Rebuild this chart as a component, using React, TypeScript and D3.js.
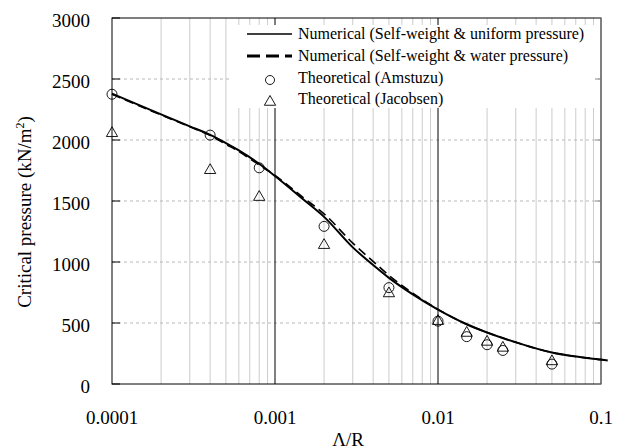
import React from "react";
import * as d3 from "d3";

// -- DATA --
const numX = [0.0001, 0.0002, 0.0003, 0.0004, 0.0005, 0.0006, 0.0008, 0.001, 0.0015, 0.002, 0.003, 0.004, 0.005, 0.007, 0.01, 0.015, 0.02, 0.03, 0.05, 0.07, 0.1, 0.11];
const uniformP = [2380, 2210, 2112, 2042, 1975, 1915, 1805, 1705, 1510, 1370, 1120, 975, 870, 735, 610, 490, 422, 342, 258, 225, 200, 192];
const waterP = [2375, 2205, 2108, 2038, 1965, 1905, 1795, 1710, 1525, 1395, 1155, 1005, 890, 745, 612, 490, 422, 342, 258, 225, 200, 192];

const theoX = [0.0001, 0.0004, 0.0008, 0.002, 0.005, 0.01, 0.015, 0.02, 0.025, 0.05];
const amstuzuP = [2375, 2040, 1772, 1292, 790, 515, 388, 322, 275, 163];
const jacobsenP = [2055, 1752, 1532, 1138, 742, 515, 418, 345, 296, 185];

const xTicks = [0.0001, 0.001, 0.01, 0.1];
const xTickLabels = ["0.0001", "0.001", "0.01", "0.1"];
const yTicks = [0, 500, 1000, 1500, 2000, 2500, 3000];

const legendLabels = [
  "Numerical (Self-weight & uniform pressure)",
  "Numerical (Self-weight & water pressure)",
  "Theoretical (Amstuzu)",
  "Theoretical (Jacobsen)",
];

const App = () => {
  const svgRef = React.useRef(null);
  const width = 623;
  const height = 446;
  const plot = { left: 112, right: 601, top: 18, bottom: 384 };
  const font = "Liberation Serif, Times New Roman, DejaVu Serif, serif";

  React.useEffect(() => {
    const svg = d3.select(svgRef.current);
    svg.selectAll("*").remove();

    const x = d3.scaleLog().domain([0.0001, 0.1]).range([plot.left, plot.right]);
    const y = d3.scaleLinear().domain([0, 3000]).range([plot.bottom, plot.top]);

    // minor vertical grid (2..9 of each decade)
    const minors = [];
    [0.0001, 0.001, 0.01].forEach((dec) => {
      for (let k = 2; k <= 9; k++) minors.push(dec * k);
    });
    svg
      .append("g")
      .selectAll("line")
      .data(minors)
      .enter()
      .append("line")
      .attr("x1", (d) => x(d))
      .attr("x2", (d) => x(d))
      .attr("y1", plot.top)
      .attr("y2", plot.bottom)
      .style("stroke", "#cccccc")
      .style("stroke-width", 1);

    // horizontal dashed grid
    svg
      .append("g")
      .selectAll("line")
      .data(yTicks.filter((d) => d > 0 && d < 3000))
      .enter()
      .append("line")
      .attr("x1", plot.left)
      .attr("x2", plot.right)
      .attr("y1", (d) => y(d))
      .attr("y2", (d) => y(d))
      .style("stroke", "#b8b8b8")
      .style("stroke-width", 1)
      .style("stroke-dasharray", "3,3");

    // major decade lines
    svg
      .append("g")
      .selectAll("line")
      .data([0.001, 0.01])
      .enter()
      .append("line")
      .attr("x1", (d) => x(d))
      .attr("x2", (d) => x(d))
      .attr("y1", plot.top)
      .attr("y2", plot.bottom)
      .style("stroke", "#000")
      .style("stroke-width", 1);

    // legend background hides the grid
    svg
      .append("rect")
      .attr("x", 230)
      .attr("y", 25)
      .attr("width", 368)
      .attr("height", 83)
      .style("fill", "#fff");

    // frame
    svg
      .append("rect")
      .attr("x", plot.left)
      .attr("y", plot.top)
      .attr("width", plot.right - plot.left)
      .attr("height", plot.bottom - plot.top)
      .style("fill", "none")
      .style("stroke", "#000")
      .style("stroke-width", 1);

    // inward y ticks on left and right
    const yTickG = svg.append("g");
    yTickG
      .selectAll(".tl")
      .data(yTicks)
      .enter()
      .append("line")
      .attr("x1", plot.left)
      .attr("x2", plot.left + 8)
      .attr("y1", (d) => y(d))
      .attr("y2", (d) => y(d))
      .style("stroke", "#000");
    yTickG
      .selectAll(".tr")
      .data(yTicks)
      .enter()
      .append("line")
      .attr("x1", plot.right)
      .attr("x2", plot.right - 6)
      .attr("y1", (d) => y(d))
      .attr("y2", (d) => y(d))
      .style("stroke", "#888");

    // tick labels
    svg
      .append("g")
      .selectAll("text")
      .data(yTicks)
      .enter()
      .append("text")
      .attr("x", 90)
      .attr("y", (d) => y(d) + 9)
      .attr("text-anchor", "end")
      .attr("font-family", font)
      .attr("font-size", 19)
      .text((d) => d);
    svg
      .append("g")
      .selectAll("text")
      .data(xTicks)
      .enter()
      .append("text")
      .attr("x", (d) => x(d))
      .attr("y", 424)
      .attr("text-anchor", "middle")
      .attr("font-family", font)
      .attr("font-size", 19)
      .text((d, i) => xTickLabels[i]);

    // axis titles
    svg
      .append("text")
      .attr("x", 348)
      .attr("y", 446)
      .attr("text-anchor", "middle")
      .attr("font-family", font)
      .attr("font-size", 19)
      .text("Λ/R");
    const yl = svg
      .append("text")
      .attr("transform", "translate(31,212) rotate(-90)")
      .attr("text-anchor", "middle")
      .attr("font-family", font)
      .attr("font-size", 19);
    yl.append("tspan").text("Critical pressure (kN/m");
    yl.append("tspan").attr("dy", -7).attr("font-size", 12).text("2");
    yl.append("tspan").attr("dy", 7).text(")");

    // curves
    const line = d3
      .line()
      .x((d) => x(d[0]))
      .y((d) => y(d[1]))
      .curve(d3.curveMonotoneX);
    svg
      .append("path")
      .attr("d", line(numX.map((v, i) => [v, waterP[i]])))
      .style("fill", "none")
      .style("stroke", "#000")
      .style("stroke-width", 1.6)
      .style("stroke-dasharray", "9,5");
    svg
      .append("path")
      .attr("d", line(numX.map((v, i) => [v, uniformP[i]])))
      .style("fill", "none")
      .style("stroke", "#000")
      .style("stroke-width", 2);

    // markers
    svg
      .append("g")
      .selectAll("circle")
      .data(theoX.map((v, i) => [v, amstuzuP[i]]))
      .enter()
      .append("circle")
      .attr("cx", (d) => x(d[0]))
      .attr("cy", (d) => y(d[1]))
      .attr("r", 5)
      .style("fill", "none")
      .style("stroke", "#000")
      .style("stroke-width", 0.9);
    const tri = d3.symbol().type(d3.symbolTriangle).size(55);
    svg
      .append("g")
      .selectAll("path")
      .data(theoX.map((v, i) => [v, jacobsenP[i]]))
      .enter()
      .append("path")
      .attr("transform", (d) => `translate(${x(d[0])},${y(d[1])})`)
      .attr("d", tri())
      .style("fill", "none")
      .style("stroke", "#000")
      .style("stroke-width", 0.9);

    // legend
    const lg = svg.append("g");
    const rowY = [34, 56, 78, 99];
    lg.append("line")
      .attr("x1", 247).attr("x2", 292).attr("y1", rowY[0]).attr("y2", rowY[0])
      .style("stroke", "#000").style("stroke-width", 1.5);
    lg.append("line")
      .attr("x1", 247).attr("x2", 292).attr("y1", rowY[1]).attr("y2", rowY[1])
      .style("stroke", "#000").style("stroke-width", 3)
      .style("stroke-dasharray", "13,6");
    lg.append("circle")
      .attr("cx", 270).attr("cy", rowY[2] + 2).attr("r", 4.5)
      .style("fill", "none").style("stroke", "#000").style("stroke-width", 0.9);
    lg.append("path")
      .attr("transform", `translate(270,${rowY[3] + 3})`)
      .attr("d", tri())
      .style("fill", "none").style("stroke", "#000").style("stroke-width", 0.9);
    lg.selectAll("text")
      .data(legendLabels)
      .enter()
      .append("text")
      .attr("x", 298)
      .attr("y", (d, i) => rowY[i] + 5)
      .attr("font-family", font)
      .attr("font-size", 16)
      .text((d) => d);
  }, []);

  return (
    <svg
      ref={svgRef}
      width={width}
      height={height}
      style={{ position: "absolute", left: 0, top: 0, background: "#fff" }}
    />
  );
};

export default App;
